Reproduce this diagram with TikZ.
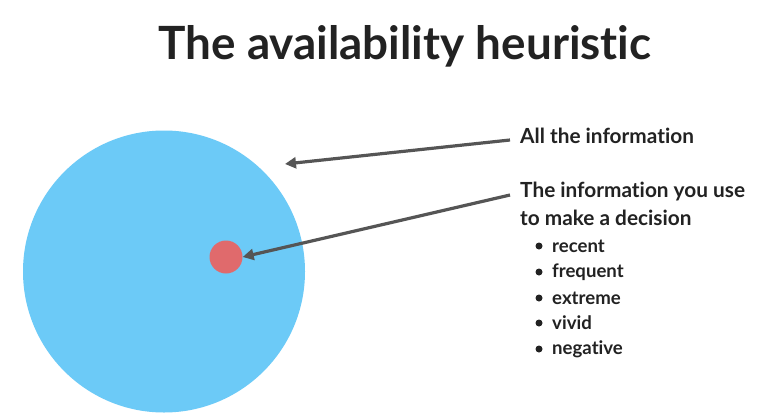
\documentclass[tikz,border=0pt]{standalone}
\usepackage{fontspec}
\setmainfont{Lato}[UprightFont=* Bold,Ligatures=NoCommon]
\definecolor{bigblue}{HTML}{6CCAF7}
\definecolor{dotred}{HTML}{E06A6C}
\definecolor{arrowgray}{HTML}{555555}
\definecolor{txt}{HTML}{222222}
\usetikzlibrary{arrows.meta}
\begin{document}
\begin{tikzpicture}[x=1pt,y=-1pt,
  lbl/.style={anchor=west,inner sep=0pt,text=txt,font=\fontsize{20.8}{24}\selectfont},
  item/.style={anchor=west,inner sep=0pt,text=txt,font=\fontsize{18.6}{20}\selectfont},
  bul/.style={circle,fill=txt,inner sep=0pt,minimum size=7pt},
  conn/.style={draw=arrowgray,line width=3.2pt,-{Triangle[length=11pt,width=11pt]}}]
\useasboundingbox[fill=white] (0,0) rectangle (767,415);
\node[inner sep=0pt,text=txt,font=\fontsize{45.8}{50}\selectfont] (title) at (405,46) {The availability heuristic};
\node[circle,fill=bigblue,inner sep=0pt,minimum size=282pt] (big) at (164,271.5) {};
\node[circle,fill=dotred,inner sep=0pt,minimum size=33pt] (dot) at (226,257) {};
\node[lbl] (all) at (520,136) {All the information};
\node[lbl] (use1) at (520,192) {The information you use};
\node[lbl] (use2) at (520,218) {to make a decision};
\foreach \t/\y [count=\i] in {recent/246,frequent/272,extreme/298,vivid/323,negative/349}{
  \node[bul] (b\i) at (539,\y) {};
  \node[item] (it\i) at (552,\y) {\t};
}
\coordinate (tip1) at (285,164);
\coordinate (s1) at (510,140);
\coordinate (s2) at (510,195);
\draw[conn] (s1) -- (tip1);
\draw[conn] (s2) -- (dot.east);
\end{tikzpicture}
\end{document}
